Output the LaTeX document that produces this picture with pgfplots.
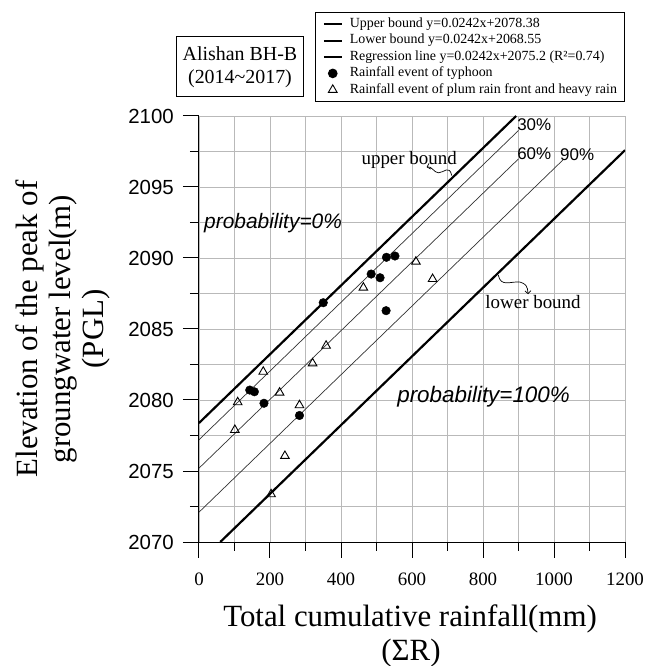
\documentclass[border=0pt]{standalone}
\usepackage{fontspec}
\setmainfont{Liberation Serif}
\setsansfont{Liberation Sans}
\usepackage{pgfplots}
\pgfplotsset{compat=1.18}
\usetikzlibrary{arrows.meta}
\pgfplotsset{
  lineleg/.style={legend image code/.code={\draw[##1] (0bp,0bp) -- (18bp,0bp);}},
  markleg/.style={legend image code/.code={\draw[##1] plot coordinates {(9bp,0bp)};}},
}

\begin{document}
\begin{tikzpicture}
\begin{axis}[
  scale only axis, width=426bp, height=426bp,
  xmin=0, xmax=1200, ymin=2070, ymax=2100,
  axis x line*=bottom, axis y line*=left,
  axis line style={line width=1bp, black},
  xtick={0,200,...,1200}, xticklabels={0,200,400,600,800,1000,1200},
  ytick={2070,2075,...,2100}, yticklabels={2070,2075,2080,2085,2090,2095,2100},
  minor x tick num=1, minor y tick num=1, scaled ticks=false,
  tick align=outside, major tick length=16bp, minor tick length=9bp,
  tick style={line width=1bp, black},
  grid=both,
  major grid style={line width=0.9bp, gray!55},
  minor grid style={line width=0.9bp, gray!55},
  xticklabel style={font=\fontsize{19}{19}\selectfont, inner sep=0pt, anchor=base, yshift=-28bp},
  yticklabel style={font=\sffamily\fontsize{20.5}{20.5}\selectfont, inner sep=0pt, anchor=east, xshift=-9bp},
  clip mode=individual,
  legend style={at={(1,1.2441)}, anchor=north east, draw=black, line width=1bp,
    font=\fontsize{14}{16}\selectfont, row sep=0pt, column sep=7bp,
    inner xsep=7.5bp, inner ysep=3.5bp,
    nodes={inner xsep=0bp, inner ysep=1.5bp, text height=10bp, text depth=3.4bp}},
  legend cell align=left,
]
% bounds and probability lines
\addplot[black, line width=2.2bp, forget plot] coordinates {(0,2078.38) (893.4,2100)};
\addplot[black, line width=2.2bp, forget plot] coordinates {(59.9,2070) (1200,2097.59)};
\addplot[black!80, line width=0.7bp, forget plot] coordinates {(0,2077.2) (900,2098.98)};
\addplot[black!80, line width=0.7bp, forget plot] coordinates {(0,2075.2) (900,2096.98)};
\addplot[black!80, line width=0.7bp, forget plot] coordinates {(0,2072.1) (1025,2096.9)};

% typhoon events
\addplot[only marks, mark=*, mark size=4.3bp, black, forget plot] coordinates {
  (143,2080.70) (156,2080.58) (183,2079.77) (283,2078.91) (350,2086.85)
  (485,2088.87) (510,2088.61) (528,2090.05) (552,2090.14) (527,2086.29)};
% plum rain front and heavy rain
\addplot[only marks, mark=triangle, mark size=5bp, black, line width=0.9bp, forget plot] coordinates {
  (181,2081.99) (109,2079.84) (101,2077.89) (227,2080.52) (283,2079.63)
  (320,2082.58) (358,2083.82) (242,2076.06) (203,2073.36) (463,2087.91)
  (611,2089.74) (658,2088.52)};

\addlegendimage{black, line width=2bp, lineleg}
\addlegendentry{Upper bound y=0.0242x+2078.38}
\addlegendimage{black, line width=2bp, lineleg}
\addlegendentry{Lower bound y=0.0242x+2068.55}
\addlegendimage{black, line width=2bp, lineleg}
\addlegendentry{Regression line y=0.0242x+2075.2 (R²=0.74)}
\addlegendimage{only marks, mark=*, mark size=4.3bp, black, markleg}
\addlegendentry{Rainfall event of typhoon}
\addlegendimage{only marks, mark=triangle, mark size=5bp, black, line width=0.9bp, markleg}
\addlegendentry{Rainfall event of plum rain front and heavy rain}

% annotations
\node[anchor=base west, inner sep=0pt, font=\sffamily\itshape\fontsize{21}{21}\selectfont] at (axis cs:14,2092.1) {probability=0\%};
\node[anchor=base west, inner sep=0pt, font=\sffamily\itshape\fontsize{22.5}{22.5}\selectfont] at (axis cs:558,2079.8) {probability=100\%};
\node[inner sep=0pt, font=\fontsize{19}{19}\selectfont] at (axis cs:592,2096.9) {upper bound};
\node[inner sep=0pt, font=\fontsize{19}{19}\selectfont] at (axis cs:941,2086.9) {lower bound};
\node[anchor=west, inner sep=0pt, font=\sffamily\fontsize{17}{17}\selectfont] at (axis cs:896,2099.37) {30\%};
\node[anchor=west, inner sep=0pt, font=\sffamily\fontsize{17}{17}\selectfont] at (axis cs:896,2097.32) {60\%};
\node[anchor=west, inner sep=0pt, font=\sffamily\fontsize{17}{17}\selectfont] at (axis cs:1017,2097.25) {90\%};
\draw[black, line width=0.7bp, -{Straight Barb[length=3bp]}] (axis cs:712,2095.8)
  .. controls (axis cs:705,2096.6) and (axis cs:690,2096.0) .. (axis cs:675,2096.0)
  .. controls (axis cs:662,2096.0) and (axis cs:655,2096.5) .. (axis cs:641,2096.4);
\draw[black, line width=0.7bp, -{Straight Barb[length=3bp]}] (axis cs:843,2088.8)
  .. controls (axis cs:850,2087.9) and (axis cs:880,2088.4) .. (axis cs:905,2088.3)
  .. controls (axis cs:920,2088.2) and (axis cs:926,2088.0) .. (axis cs:927,2087.45);
\end{axis}

% station box
\node[draw, line width=1bp, minimum width=126bp, minimum height=60bp, align=center,
  inner sep=0pt, font=\fontsize{20}{23}\selectfont] at (41bp,475bp) {Alishan BH-B\\(2014\textasciitilde2017)};
% axis titles
\node[rotate=90, anchor=base, inner sep=0pt, font=\fontsize{31}{34}\selectfont] at (-161.5bp,213bp) {Elevation of the peak of};
\node[rotate=90, anchor=base, inner sep=0pt, font=\fontsize{31}{34}\selectfont] at (-128.5bp,213bp) {groungwater level(m)};
\node[rotate=90, anchor=base, inner sep=0pt, font=\fontsize{31}{34}\selectfont] at (-95.5bp,213bp) {(PGL)};
\node[anchor=base, inner sep=0pt, font=\fontsize{31}{34}\selectfont] at (211bp,-84.7bp) {Total cumulative rainfall(mm)};
\node[anchor=base, inner sep=0pt, font=\fontsize{31}{34}\selectfont] at (212bp,-118.7bp) {(ΣR)};

\pgfresetboundingbox
\path (-199bp,-124bp) rectangle (447bp,542bp);
\end{tikzpicture}
\end{document}
